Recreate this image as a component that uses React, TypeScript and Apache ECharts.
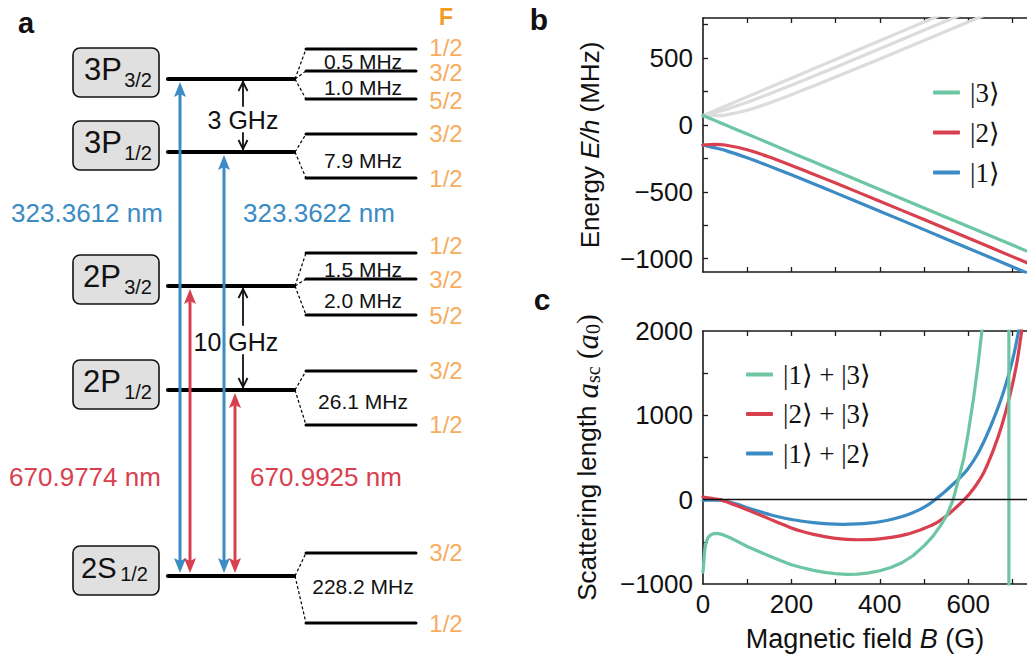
import React, { useEffect, useRef } from 'react';
import * as echarts from 'echarts';

const SANS = "'Liberation Sans', Arial, Helvetica, sans-serif";
const SERIF = "'Liberation Serif', 'DejaVu Serif', serif";
const BLUE = '#3b8bc4';
const RED = '#d9404f';
const GREEN = '#6cc5a3';
const GRAY = '#dcdcdc';
const ORANGE = '#f7ad5e';
const ORANGE_DARK = '#f39b23';
const INK = '#111111';

// ---------------- panel b : Zeeman energies (MHz) vs field (G)
const fieldB = [0, 25, 50, 100, 150, 200, 250, 300, 400, 500, 600, 700, 733];
const state3 = [70, 36, 1, -68, -137, -207, -276, -345, -483, -621, -760, -898, -944];
const state2 = [-150, -146, -150, -186, -240, -303, -368, -435, -570, -708, -846, -985, -1031];
const state1 = [-150, -170, -190, -246, -308, -373, -440, -508, -645, -783, -922, -1061, -1107];
const upperHi = [70, 105, 140, 210, 280, 350, 420, 490, 630, 770, 910, 1050, 1096];
const upperMid = [70, 90, 114, 170, 232, 297, 364, 432, 570, 708, 846, 985, 1031];
const upperLo = [70, 69, 74, 110, 165, 226, 292, 359, 494, 632, 770, 909, 955];
const energyTicks = [-1000, -750, -500, -250, 0, 250, 500, 750];
const energyLabels = [-1000, -500, 0, 500];

// ---------------- panel c : scattering lengths (a0) vs field (G)
const pair13 = [
  [0, -860], [1.5, -760], [3, -650], [5, -560], [8, -490], [12, -445], [18, -415], [25, -402],
  [32, -400], [45, -415], [60, -448], [80, -500], [100, -555], [125, -612], [150, -668],
  [175, -722], [200, -771], [225, -808], [250, -838], [275, -862], [300, -878], [325, -885],
  [350, -882], [375, -868], [400, -843], [425, -805], [450, -748], [475, -665], [500, -548],
  [520, -436], [537, -310], [552, -180], [566, 0], [578, 240], [590, 490], [600, 790],
  [612, 1200], [622, 1590], [631, 2000], [645, 3000], [660, 5000], [675, 10000],
  [686, 40000], [691.6, 1000000], [692.4, -1000000], [700, -40000], [733, -8000],
];
const pair23 = [
  [0, 32], [20, 15], [39, 0], [60, -38], [80, -78], [100, -120], [125, -172], [150, -228],
  [175, -282], [200, -335], [225, -378], [250, -412], [275, -438], [300, -458], [325, -470],
  [350, -475], [375, -474], [400, -465], [430, -445], [460, -412], [490, -362], [510, -320],
  [530, -268], [551, -190], [570, -105], [591, 0], [612, 130], [635, 320], [657, 590],
  [676, 880], [695, 1250], [710, 1620], [721, 2000], [733, 2450],
];
const pair12 = [
  [0, -8], [20, -6], [39, -5], [60, -28], [80, -58], [100, -95], [125, -135], [150, -176],
  [175, -208], [200, -235], [225, -256], [250, -273], [275, -284], [300, -290], [320, -293],
  [350, -288], [375, -278], [400, -262], [430, -230], [460, -185], [490, -118], [510, -58],
  [525, 0], [545, 85], [565, 180], [585, 280], [600, 370], [620, 530], [640, 740],
  [660, 990], [680, 1280], [700, 1650], [714, 2000], [733, 2600],
];
const scatTicks = [-500, 0, 500, 1000, 1500];
const scatLabels = [-1000, 0, 1000, 2000];
const fieldTicks = [100, 200, 300, 400, 500, 600, 700];
const fieldLabels = [0, 200, 400, 600];
const FIELD_MAX = 733;

// ---------------- panel a : level scheme content
const termNames = ['3P', '3P', '2P', '2P', '2S'];
const termJ = ['3/2', '1/2', '3/2', '1/2', '1/2'];
const hyperfineF = [['1/2', '3/2', '5/2'], ['3/2', '1/2'], ['1/2', '3/2', '5/2'], ['3/2', '1/2'], ['3/2', '1/2']];
const hyperfineSplit = [['0.5 MHz', '1.0 MHz'], ['7.9 MHz'], ['1.5 MHz', '2.0 MHz'], ['26.1 MHz'], ['228.2 MHz']];
const fineSplit = ['3 GHz', '10 GHz'];
const uvLines = ['323.3612 nm', '323.3622 nm'];
const redLines = ['670.9774 nm', '670.9925 nm'];

// ---------------- panel a layout (pixels)
const boxTop = [48, 121, 255, 360, 546];
const levelY = [79, 152, 286, 390, 576];
const subY = [[49, 71, 99], [134, 178], [253, 279, 315], [371, 425], [553, 623]];
const fLabelY = [[47, 72, 100], [133, 178], [245, 279, 315], [370, 424], [552, 623]];
const splitY = [[61, 87], [160], [269, 300], [401], [586]];
const mainLeft = [84, 84, 83, 83, 81];
const mainSize = [31, 31, 31, 31, 29];
const subRight = [152, 152, 152, 152, 148];
const subDy = [32, 32, 32, 32, 28];

const minus = (v: number) => String(v).replace('-', '\u2212');

function txt(text: string, x: number, y: number, size: number, color: string, o: any = {}) {
  const align = o.align || 'center';
  return {
    type: 'text', silent: true, z: 20,
    style: {
      text, x, y, fill: color, fontSize: size, fontFamily: o.family || SANS,
      fontWeight: o.weight || 'normal', fontStyle: o.style || 'normal',
      align, verticalAlign: 'middle', textAlign: align, textVerticalAlign: 'middle',
    },
  };
}
function seg(x1: number, y1: number, x2: number, y2: number, color: string, w: number, dash?: number[]) {
  return {
    type: 'line', silent: true, z: 10, shape: { x1, y1, x2, y2 },
    style: { stroke: color, lineWidth: w, lineDash: dash, lineCap: dash ? 'butt' : 'round' },
  };
}
function poly(points: number[][], color: string) {
  return { type: 'polygon', silent: true, z: 12, shape: { points }, style: { fill: color } };
}
function chevron(points: number[][]) {
  return { type: 'polyline', silent: true, z: 12, shape: { points }, style: { stroke: INK, lineWidth: 1.8, fill: null } };
}
function laserArrow(x: number, yTop: number, yBot: number, color: string) {
  const hl = 15, hw = 6;
  return [
    { ...seg(x, yTop + hl - 4, x, yBot - hl + 4, color, 3), style: { stroke: color, lineWidth: 3, lineCap: 'butt' }, z: 11 },
    poly([[x, yTop], [x - hw, yTop + hl], [x, yTop + hl - 3], [x + hw, yTop + hl]], color),
    poly([[x, yBot], [x - hw, yBot - hl], [x, yBot - hl + 3], [x + hw, yBot - hl]], color),
  ];
}
function gapArrow(x: number, yTop: number, yBot: number, g1: number, g2: number) {
  return [
    seg(x, yTop, x, g1, INK, 1.8),
    chevron([[x - 4.5, yTop + 9], [x, yTop], [x + 4.5, yTop + 9]]),
    seg(x, g2, x, yBot, INK, 1.8),
    chevron([[x - 4.5, yBot - 9], [x, yBot], [x + 4.5, yBot - 9]]),
  ];
}

function buildSchemeGraphics() {
  const els: any[] = [];
  els.push(txt('a', 26, 23, 29, INK, { weight: 'bold' }));
  els.push(txt('b', 539, 19, 30, INK, { weight: 'bold' }));
  els.push(txt('c', 542, 299, 30, INK, { weight: 'bold' }));
  els.push(txt('F', 446, 17, 23, ORANGE_DARK, { weight: 'bold' }));
  termNames.forEach((t, i) => {
    els.push({
      type: 'rect', silent: true, z: 5,
      shape: { x: 73, y: boxTop[i], width: 86, height: 49, r: 7 },
      style: { fill: '#e0e0e0', stroke: INK, lineWidth: 1.6 },
    });
    els.push(txt(t, mainLeft[i], boxTop[i] + 21.5, mainSize[i], INK, { align: 'left' }));
    els.push(txt(termJ[i], subRight[i], boxTop[i] + subDy[i], 20, INK, { align: 'right' }));
    els.push(seg(168, levelY[i], 294, levelY[i], '#000', 4.2));
    subY[i].forEach((y, k) => {
      els.push(seg(306, y, 416, y, '#000', 3));
      els.push(seg(295, levelY[i], 306, y, '#000', 1.2, [3, 2.2]));
      els.push(txt(hyperfineF[i][k], 446, fLabelY[i][k], 24, ORANGE));
    });
    hyperfineSplit[i].forEach((s, k) => {
      els.push(txt(s, 363, splitY[i][k], 21, INK));
    });
  });
  // laser transitions
  laserArrow(180, levelY[0] + 3, levelY[4] - 3, BLUE).forEach((e) => els.push(e));
  laserArrow(224, levelY[1] + 3, levelY[4] - 3, BLUE).forEach((e) => els.push(e));
  laserArrow(190, levelY[2] + 3, levelY[4] - 3, RED).forEach((e) => els.push(e));
  laserArrow(235, levelY[3] + 3, levelY[4] - 3, RED).forEach((e) => els.push(e));
  els.push(txt(uvLines[0], 87, 213, 26, BLUE));
  els.push(txt(uvLines[1], 319, 213, 26, BLUE));
  els.push(txt(redLines[0], 85, 477, 26, RED));
  els.push(txt(redLines[1], 326, 477, 26, RED));
  // fine-structure splittings
  gapArrow(243, levelY[0] + 3, levelY[1] - 3, 106, 133).forEach((e) => els.push(e));
  els.push(txt(fineSplit[0], 243, 120, 25, INK));
  gapArrow(243, levelY[2] + 3, levelY[3] - 3, 325, 355).forEach((e) => els.push(e));
  els.push(txt(fineSplit[1], 236, 342, 25, INK));
  return els;
}

const AX = '#1a1a1a';
function xAxisDef(gridIndex: number, position: string, withLabels: boolean, name?: string) {
  return {
    type: 'value', gridIndex, position, min: 0, max: FIELD_MAX,
    name: name || '', nameLocation: 'middle', nameGap: 41,
    nameTextStyle: {
      fontSize: 27, color: INK, fontFamily: SANS,
      rich: {
        n: { fontSize: 27, fontFamily: SANS, color: INK },
        i: { fontSize: 27, fontFamily: SANS, fontStyle: 'italic', color: INK },
      },
    },
    axisLine: { show: true, onZero: false, lineStyle: { color: AX, width: 1.6 } },
    axisTick: { show: true, inside: true, length: 5, lineStyle: { color: AX, width: 1.3 }, customValues: fieldTicks },
    axisLabel: {
      show: withLabels, customValues: fieldLabels, fontSize: 26, color: INK, fontFamily: SANS, margin: 7,
      formatter: (v: number) => minus(v),
    },
    splitLine: { show: false },
  };
}

function yAxisDef(gridIndex: number, min: number, max: number, ticks: number[], labels: number[], name: string, rich: any) {
  return {
    type: 'value', gridIndex, min, max,
    name, nameLocation: 'middle', nameGap: 100, nameRotate: 90,
    nameTextStyle: { fontSize: 26, color: INK, fontFamily: SANS, rich },
    axisLine: { show: true, onZero: false, lineStyle: { color: AX, width: 1.6 } },
    axisTick: { show: true, inside: true, length: 5, lineStyle: { color: AX, width: 1.3 }, customValues: ticks },
    axisLabel: {
      show: true, customValues: labels, fontSize: 26, color: INK, fontFamily: SANS, margin: 10,
      formatter: (v: number) => minus(v),
    },
    splitLine: { show: false },
  };
}

function lineSeries(name: string, data: any[], color: string, xi: number, yi: number, smooth: any, z = 3) {
  return {
    name, type: 'line', data, xAxisIndex: xi, yAxisIndex: yi, symbol: 'none', smooth,
    silent: true, z, clip: true,
    lineStyle: { color, width: 3.2, cap: 'round', join: 'round' }, itemStyle: { color },
    emphasis: { disabled: true },
  };
}

const zip = (xs: number[], ys: number[]) => xs.map((x, i) => [x, ys[i]]);

export default function App() {
  const ref = useRef<HTMLDivElement>(null);
  useEffect(() => {
    document.body.style.margin = '0';
    const chart = echarts.init(ref.current!, undefined, { renderer: 'svg' });
    const legendText = { fontFamily: SERIF, fontSize: 27, color: INK, padding: [0, 0, 0, 5] };
    const option: any = {
      animation: false,
      backgroundColor: '#ffffff',
      textStyle: { fontFamily: SANS },
      grid: [
        { left: 703, top: 18, right: 0, height: 254 },
        { left: 703, top: 331, right: 0, height: 253 },
      ],
      xAxis: [
        xAxisDef(0, 'bottom', false),
        xAxisDef(0, 'top', false),
        xAxisDef(1, 'bottom', true, '{n|Magnetic field }{i|B}{n| (G)}'),
        xAxisDef(1, 'top', false),
      ],
      yAxis: [
        yAxisDef(0, -1100, 800, energyTicks, energyLabels, '{n|Energy }{i|E/h}{n| (MHz)}', {
          n: { fontSize: 26, fontFamily: SANS, color: INK },
          i: { fontSize: 26, fontFamily: SANS, fontStyle: 'italic', color: INK },
        }),
        yAxisDef(1, -1000, 2000, scatTicks, scatLabels, '{n|Scattering length }{a|a}{s|sc}{p| (}{a|a}{s|0}{p|)}', {
          n: { fontSize: 26, fontFamily: SANS, color: INK, lineHeight: 32, verticalAlign: 'middle' },
          a: { fontSize: 31, fontFamily: SERIF, fontStyle: 'italic', color: INK, lineHeight: 32, verticalAlign: 'middle' },
          s: { fontSize: 20, fontFamily: SERIF, color: INK, lineHeight: 17, verticalAlign: 'bottom' },
          p: { fontSize: 29, fontFamily: SERIF, color: INK, lineHeight: 32, verticalAlign: 'middle' },
        }),
      ],
      legend: [
        {
          data: ['|3\u27E9', '|2\u27E9', '|1\u27E9'], orient: 'vertical', left: 928, top: 74,
          itemWidth: 27, itemHeight: 4, icon: 'roundRect', itemGap: 13, selectedMode: false,
          textStyle: legendText,
        },
        {
          data: ['|1\u27E9 + |3\u27E9', '|2\u27E9 + |3\u27E9', '|1\u27E9 + |2\u27E9'], orient: 'vertical',
          left: 741, top: 356, itemWidth: 27, itemHeight: 4, icon: 'roundRect', itemGap: 12.5,
          selectedMode: false, textStyle: legendText,
        },
      ],
      series: [
        lineSeries('upperHi', zip(fieldB, upperHi), GRAY, 0, 0, 0.2, 2),
        lineSeries('upperMid', zip(fieldB, upperMid), GRAY, 0, 0, 0.2, 2),
        lineSeries('upperLo', zip(fieldB, upperLo), GRAY, 0, 0, 0.2, 2),
        lineSeries('|1\u27E9', zip(fieldB, state1), BLUE, 0, 0, 0.2),
        lineSeries('|2\u27E9', zip(fieldB, state2), RED, 0, 0, 0.2),
        lineSeries('|3\u27E9', zip(fieldB, state3), GREEN, 0, 0, 0.2),
        {
          ...lineSeries('|1\u27E9 + |2\u27E9', pair12, BLUE, 2, 1, 0.2),
          markLine: {
            silent: true, symbol: ['none', 'none'], label: { show: false },
            lineStyle: { color: INK, width: 1.3, type: 'solid' }, data: [{ yAxis: 0 }],
            emphasis: { disabled: true },
          },
        },
        lineSeries('|2\u27E9 + |3\u27E9', pair23, RED, 2, 1, 0.2),
        lineSeries('|1\u27E9 + |3\u27E9', pair13, GREEN, 2, 1, false),
      ],
      graphic: buildSchemeGraphics(),
    };
    chart.setOption(option);
    return () => chart.dispose();
  }, []);
  return <div ref={ref} style={{ width: 1027, height: 657 }} />;
}
